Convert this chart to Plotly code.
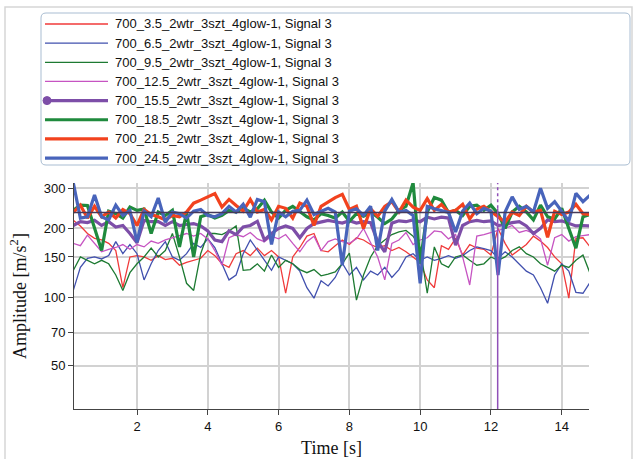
import math
import plotly.graph_objects as go

# ---------------- data ----------------
T = [0.2, 0.4, 0.6, 0.8, 1.0, 1.2, 1.4, 1.6, 1.8, 2.0,
     2.2, 2.4, 2.6, 2.8, 3.0, 3.2, 3.4, 3.6, 3.8, 4.0,
     4.2, 4.4, 4.6, 4.8, 5.0, 5.2, 5.4, 5.6, 5.8, 6.0,
     6.2, 6.4, 6.6, 6.8, 7.0, 7.2, 7.4, 7.6, 7.8, 8.0,
     8.2, 8.4, 8.6, 8.8, 9.0, 9.2, 9.4, 9.6, 9.8, 10.0,
     10.2, 10.4, 10.6, 10.8, 11.0, 11.2, 11.4, 11.6, 11.8, 12.0,
     12.2, 12.4, 12.6, 12.8, 13.0, 13.2, 13.4, 13.6, 13.8, 14.0,
     14.2, 14.4, 14.6, 14.8]

s_3_5 = [217, 205, 190, 181, 178, 172, 160, 110, 150, 152,
         150, 145, 152, 146, 148, 138, 142, 145, 148, 160,
         152, 140, 135, 155, 160, 152, 164, 152, 160, 150,
         104, 150, 165, 185, 190, 160, 158, 168, 178, 170,
         182, 178, 170, 165, 168, 160, 165, 158, 150, 142,
         119, 110, 168, 162, 181, 153, 170, 164, 162, 153,
         200, 172, 153, 162, 170, 185, 176, 165, 150, 140,
         99, 181, 182, 166]

s_6_5 = [107, 135, 148, 150, 147, 152, 175, 155, 170, 155,
         119, 140, 160, 175, 150, 145, 155, 172, 165, 180,
         165, 140, 119, 125, 155, 178, 160, 145, 131, 150,
         145, 140, 130, 110, 99, 118, 112, 122, 141, 125,
         135, 119, 130, 125, 135, 122, 132, 150, 155, 145,
         150, 145, 148, 152, 148, 152, 160, 166, 163, 160,
         148, 158, 150, 140, 130, 125, 110, 94, 125, 140,
         130, 105, 104, 116]

s_9_5 = [131, 150, 145, 140, 145, 140, 125, 107, 128, 140,
         150, 164, 150, 160, 190, 150, 115, 107, 155, 190,
         190, 188, 195, 205, 131, 132, 140, 130, 153, 135,
         145, 140, 132, 128, 132, 124, 126, 129, 140, 156,
         97, 125, 150, 168, 178, 188, 193, 196, 185, 165,
         104, 166, 140, 135, 150, 153, 145, 138, 140, 150,
         145, 150, 160, 166, 155, 150, 140, 135, 130, 138,
         135, 145, 153, 127]

s_12_5 = [172, 168, 187, 172, 158, 162, 165, 170, 162, 170,
          166, 176, 172, 178, 182, 186, 190, 185, 190, 180,
          160, 138, 182, 188, 184, 192, 180, 175, 185, 180,
          188, 172, 158, 175, 185, 160, 175, 180, 175, 172,
          180, 200, 172, 150, 119, 172, 178, 192, 170, 178,
          182, 195, 193, 180, 188, 150, 113, 185, 188, 192,
          196, 200, 206, 192, 196, 190, 180, 138, 182, 188,
          176, 184, 186, 188]

s_15_5 = [206, 214, 212, 217, 206, 214, 203, 206, 190, 173,
          217, 214, 214, 206, 214, 206, 208, 210, 205, 195,
          178, 175, 195, 188, 203, 206, 215, 178, 190, 200,
          205, 200, 182, 200, 210, 214, 217, 214, 211, 216,
          211, 214, 212, 175, 158, 211, 216, 214, 218, 214,
          224, 220, 224, 222, 169, 206, 214, 217, 214, 216,
          206, 208, 212, 214, 205, 190, 200, 218, 214, 216,
          210, 205, 206, 205]

s_18_5 = [240, 253, 252, 202, 160, 238, 232, 222, 248, 240,
          243, 190, 236, 228, 240, 166, 236, 150, 225, 230,
          222, 228, 240, 236, 245, 236, 244, 266, 236, 222,
          240, 250, 238, 225, 218, 232, 228, 222, 236, 215,
          232, 226, 236, 224, 210, 220, 240, 250, 317, 140,
          236, 273, 266, 235, 240, 228, 250, 253, 240, 253,
          232, 200, 236, 250, 236, 218, 253, 225, 220, 245,
          200, 164, 225, 230]

s_21_5 = [235, 253, 222, 250, 225, 236, 222, 242, 232, 206,
          242, 230, 225, 218, 228, 225, 236, 258, 266, 275,
          284, 248, 268, 252, 238, 268, 236, 242, 218, 250,
          245, 222, 258, 250, 206, 250, 262, 273, 282, 242,
          250, 200, 244, 226, 250, 262, 236, 266, 248, 240,
          270, 240, 255, 236, 240, 255, 220, 243, 250, 238,
          225, 213, 236, 228, 250, 236, 240, 183, 238, 230,
          236, 255, 232, 230]

s_24_5 = [317, 222, 225, 280, 225, 218, 253, 228, 240, 174,
          238, 225, 272, 213, 236, 232, 222, 238, 242, 228,
          225, 232, 250, 236, 255, 224, 268, 262, 170, 236,
          225, 238, 240, 266, 230, 238, 245, 236, 138, 238,
          244, 228, 250, 160, 238, 268, 236, 240, 228, 115,
          250, 244, 240, 235, 193, 238, 258, 232, 245, 238,
          125, 236, 275, 242, 250, 236, 300, 245, 262, 236,
          215, 285, 262, 280]

names = ["700_3.5_2wtr_3szt_4glow-1, Signal 3",
         "700_6.5_2wtr_3szt_4glow-1, Signal 3",
         "700_9.5_2wtr_3szt_4glow-1, Signal 3",
         "700_12.5_2wtr_3szt_4glow-1, Signal 3",
         "700_15.5_2wtr_3szt_4glow-1, Signal 3",
         "700_18.5_2wtr_3szt_4glow-1, Signal 3",
         "700_21.5_2wtr_3szt_4glow-1, Signal 3",
         "700_24.5_2wtr_3szt_4glow-1, Signal 3"]
series = [s_3_5, s_6_5, s_9_5, s_12_5, s_15_5, s_18_5, s_21_5, s_24_5]

x_ticks = [2, 4, 6, 8, 10, 12, 14]
y_ticks = [50, 70, 100, 150, 200, 300]
ref_level = 235       # horizontal reference line
cursor_t = 12.19      # vertical cursor position
cursor_split = 245    # cursor is dotted above this level

# ---------------- styles ----------------
colors = ["#f03a3a", "#4150ae", "#1d7a32", "#c654c2",
          "#7d4ea8", "#1f8a3d", "#f2421e", "#4864bb"]
widths = [1.3, 1.3, 1.3, 1.3, 3.2, 3.2, 3.2, 3.2]

X_RANGE = [0.22, 14.77]
Y_RANGE = [1.51, 2.5]   # log10

W, H = 634, 459
L, R, TOP, B = 74, 45, 183, 50
PW, PH = W - L - R, H - TOP - B


def px(xp):
    return (xp - L) / PW


def py(yp):
    return (H - B - yp) / PH


def yfrac(v):
    return (math.log10(v) - Y_RANGE[0]) / (Y_RANGE[1] - Y_RANGE[0])


fig = go.Figure()
for nm, ys, c, w in zip(names, series, colors, widths):
    fig.add_trace(go.Scatter(x=T, y=ys, mode="lines", name=nm,
                             line=dict(color=c, width=w), showlegend=False))

shapes = []
# horizontal reference line
hf = yfrac(ref_level)
shapes.append(dict(type="line", xref="paper", yref="paper", x0=0, x1=1,
                   y0=hf, y1=hf, line=dict(color="#463a5a", width=1.6)))

# cursor (solid lower part, dotted upper part)
frac = yfrac(cursor_split)
shapes.append(dict(type="line", xref="x", yref="paper", x0=cursor_t, x1=cursor_t,
                   y0=0, y1=frac, line=dict(color="#9050b8", width=1.5)))
shapes.append(dict(type="line", xref="x", yref="paper", x0=cursor_t, x1=cursor_t,
                   y0=frac, y1=1, line=dict(color="#9050b8", width=1.5, dash="dot")))

# outer frame
shapes.append(dict(type="rect", xref="paper", yref="paper", layer="below",
                   x0=px(5), x1=px(632), y0=py(475), y1=py(7),
                   line=dict(color="#d6d6d6", width=1.5)))

# legend box with rounded corners
bx0, bx1, by0, by1, rr = 41, 630, 13, 165, 5
rx, ry = rr / PW, rr / PH
X0, X1, Y0, Y1 = px(bx0), px(bx1), py(by1), py(by0)
path = (f"M{X0+rx},{Y1} L{X1-rx},{Y1} Q{X1},{Y1} {X1},{Y1-ry} "
        f"L{X1},{Y0+ry} Q{X1},{Y0} {X1-rx},{Y0} L{X0+rx},{Y0} "
        f"Q{X0},{Y0} {X0},{Y0+ry} L{X0},{Y1-ry} Q{X0},{Y1} {X0+rx},{Y1} Z")
shapes.append(dict(type="path", xref="paper", yref="paper", path=path,
                   fillcolor="white", line=dict(color="#a9bdd2", width=1)))

annotations = []
row0, step = 24, 19.15
for i, (nm, c, w) in enumerate(zip(names, colors, widths)):
    yy = py(row0 + i * step)
    shapes.append(dict(type="line", xref="paper", yref="paper",
                       x0=px(45), x1=px(108), y0=yy, y1=yy,
                       line=dict(color=c, width=w)))
    if i == 4:
        shapes.append(dict(type="circle", xref="paper", yref="paper",
                           x0=px(43), x1=px(51), y0=yy - 4 / PH, y1=yy + 4 / PH,
                           fillcolor=c, line=dict(color=c, width=1)))
    annotations.append(dict(xref="paper", yref="paper", x=px(113), y=yy,
                            xanchor="left", yanchor="middle", showarrow=False,
                            text=nm, font=dict(family="Liberation Sans, Arial",
                                               size=13, color="#111111")))

fig.update_layout(
    width=W, height=H,
    margin=dict(l=L, r=R, t=TOP, b=B, autoexpand=False),
    paper_bgcolor="white", plot_bgcolor="white",
    shapes=shapes, annotations=annotations,
    showlegend=False,
    xaxis=dict(range=X_RANGE, tickvals=x_ticks, ticks="outside", ticklen=5,
               tickcolor="#444", showline=True, linecolor="#444", linewidth=1,
               showgrid=True, gridcolor="#d2d2d2", gridwidth=1.5, zeroline=False,
               automargin=False,
               tickfont=dict(family="Liberation Sans, Arial", size=13, color="#111"),
               title=dict(text="Time [s]", standoff=8,
                          font=dict(family="Liberation Serif, Times New Roman",
                                    size=18, color="#111"))),
    yaxis=dict(type="log", range=Y_RANGE, tickvals=y_ticks,
               ticktext=[str(v) for v in y_ticks],
               ticks="outside", ticklen=5, tickcolor="#444",
               showline=True, linecolor="#444", linewidth=1,
               showgrid=True, gridcolor="#d2d2d2", gridwidth=1.5, zeroline=False,
               automargin=False,
               tickfont=dict(family="Liberation Sans, Arial", size=13, color="#111"),
               title=dict(text="Amplitude [m/s<sup>2</sup>]", standoff=12,
                          font=dict(family="Liberation Serif, Times New Roman",
                                    size=18, color="#111"))),
)

fig.write_html("out.html",
               config={"displayModeBar": False},
               post_script="document.body.style.margin='0';"
                           "document.body.style.overflow='hidden';")
